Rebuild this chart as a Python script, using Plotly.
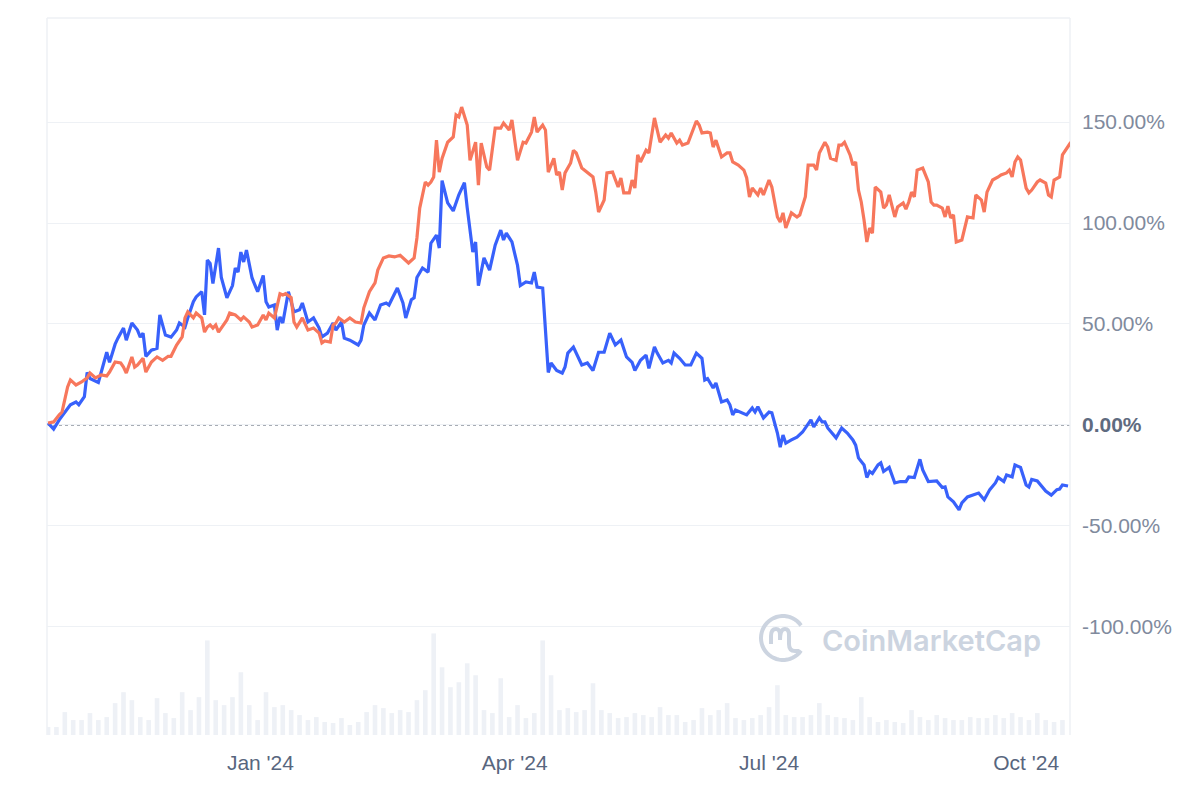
import math
import pandas as pd
import plotly.graph_objects as go

START = pd.Timestamp("2023-10-17")

# ---- Series A (blue): % change, keyed by days since START ----
blue_days = [0,2,4,6,8,10,11,13,14,15,18,19,21,22,24,25,27,28,30,32,33,34,35,37,39,40,42,44,46,47,49,50,52,53,55,56,57,58,59,61,62,64,66,67,68,69,70,71,73,75,77,78,79,81,82,83,84,86,88,90,91,93,95,97,98,100,102,103,105,106,108,111,112,113,115,117,119,121,122,125,127,128,130,131,132,134,136,137,139,140,141,143,145,147,149,150,152,153,154,156,158,160,162,163,164,166,168,169,171,173,174,175,177,179,180,182,184,185,186,188,190,191,193,195,197,199,201,203,205,207,209,210,212,214,215,217,218,220,222,223,224,226,228,230,232,234,235,236,238,239,241,243,244,245,246,248,250,252,253,254,256,258,259,261,262,263,264,266,268,270,273,274,276,277,278,279,282,284,286,288,289,290,292,293,294,295,297,298,299,301,303,305,307,308,310,312,313,315,318,320,321,322,324,326,327,329,331,333,335,337,339,340,342,343,345,346,348,350,351,352,354,356,357,359,361,362,363,365]
blue_vals = [1,-2,2.5,6.5,10,11.4,10,14,26,23,21,26,36,31,40,43,48,42,50.5,47,43.5,45.5,34,37,38,54.5,44.5,43.5,47,50.5,48.5,53,61,63.4,66,54.5,81.7,80,70,87.6,73,63,69,77.7,75.7,85.6,80.7,86.6,72.8,66,74,61,58.4,59.4,47,53.5,50.5,66,56,57,60.4,51,53,48,43.6,45.5,50.5,47,51,43,42,39.6,42,49.5,55.4,52,59.4,60.4,59.4,67.8,60.4,53,62,63,73,77.7,75.7,90,94,87.6,121,110,106,114,120,107.5,85.6,90.6,69,82.7,76.7,89,96.5,91.6,95,90.6,79,69,70.8,70.3,75.7,68.3,67.8,26,30.7,27,25.7,28.7,35.6,38.6,32,29.7,30.7,27,36,36,45.5,39.6,42,33.7,31,27,32,34.6,28,38.6,35.6,30.7,32,30.7,35.6,33,29.7,29.7,35.6,33,22.3,23,18.3,20.8,11.4,12.4,10,5,7.4,6.4,5,8.4,6.4,9,3.5,6.4,6,-4,-11,-5,-9,-7.4,-6,-3.5,2.5,-1,3.5,1.5,1.5,-1.5,-6.4,-1.5,-4,-7.4,-10,-16.3,-19.8,-26,-23,-24,-19.8,-18.8,-23,-21,-28.7,-28,-28,-25.7,-26,-17,-22.3,-28,-27.7,-31,-30.7,-35.6,-38,-42,-38.6,-35.6,-34.7,-33.7,-37,-32,-28.7,-26,-28,-24.8,-25.7,-19.8,-21,-29.7,-30.7,-27,-27.7,-31,-32.7,-34.7,-32,-31.7,-29.7,-30.2]

# ---- Series B (orange): % change, keyed by days since START ----
orange_days = [0,2,4,5,7,8,10,12,14,15,17,19,21,22,24,26,27,28,30,31,32,34,35,37,39,41,43,44,46,48,49,50,52,53,55,56,57,58,59,60,61,63,64,65,67,69,70,72,73,75,77,78,79,81,83,84,85,87,88,89,91,93,95,97,98,99,101,102,103,104,106,108,110,112,113,115,117,118,120,122,124,126,127,129,131,132,133,135,136,137,138,139,140,141,143,145,146,147,148,150,151,153,154,155,157,158,160,162,163,165,166,168,170,171,173,174,175,177,178,179,181,182,183,184,185,187,188,189,191,193,195,196,197,199,200,202,204,205,206,208,209,210,211,212,214,215,217,218,219,221,222,223,225,226,227,229,231,232,233,234,236,237,238,239,241,243,244,245,247,249,250,251,252,254,255,256,258,259,261,262,263,264,266,268,269,271,272,274,275,276,278,279,280,282,283,284,285,287,288,289,290,291,292,293,294,295,296,298,299,300,301,303,304,306,307,308,309,310,311,313,315,316,317,318,320,321,322,323,324,325,327,328,329,331,332,334,335,336,338,340,341,343,344,345,346,347,348,350,351,352,354,355,357,358,359,360,362,363,365,366]
orange_vals = [1,1.5,5,6.4,18.8,22.3,19.8,21.3,23.3,25.7,23.3,24.8,24.3,26.2,31.2,30.7,28.7,25.7,33.7,28.7,29.7,33,26.2,31.2,33.7,32,34,34,39.6,43.6,53,56,53,55.4,53,46,48.5,49.5,48,49.5,46,50.5,52,55.4,54.5,52,53.5,51,48.5,49.5,54.5,52,55.4,53,65,64.4,65,63,51,48.5,53,47,48,45.5,40.6,41.6,41,49.5,50.5,53,51,53,51,50.5,58,66,70.3,76.7,82.7,83.7,83.2,84,82.7,80.2,82.7,92.6,107.4,120.3,118.8,120.3,122.8,141,125.2,132,140,142.6,153.5,152.5,157.4,148.5,131,140,118.8,139.6,127.7,126.2,147,147,149.5,146,151,131,140,139.6,145,152.5,145,148.5,146,125.2,132,123.8,125.2,116.3,124.8,129.7,136,134.7,127.2,125.2,122.8,115.3,105.4,111.4,124.8,125.2,117.8,122.3,114.9,114.9,121.3,117.3,133.7,130.2,136,134.7,152,146,140,143.6,142,144.6,139.6,141,138.6,139.6,147,150.5,148.5,144.6,145,144.6,137.6,141,132.7,134.7,134.7,130.2,128.7,126.2,122.3,112.9,117.3,113.9,117.3,113.9,121.3,117.8,103,100.5,105,97.5,105,103,104,113,128.7,128.7,126.2,134.7,140,137.6,132,131,138.6,138.6,140,133.7,128.7,130.2,116.3,110.4,101.5,90.6,97.5,95,117.8,115.3,107.4,108.9,113.9,103,107.9,109.9,106.9,110.4,115.3,112.9,126.2,127.2,120.3,110.4,108.9,108.9,107.4,103,108.4,102.5,104,90.6,91.6,97.5,103,102.5,113.9,111.4,105.4,115.3,121.3,122.8,123.8,124.8,126.2,122.8,130.2,132.7,131.2,117.3,114.9,116.3,120.3,121.3,119.8,113.9,112.9,121.3,122.8,133.7,137.6,140]

# ---- Trading volume (relative index), one value per 3-day bucket ----
volume = [8,8,23,15,15,22,15,18,32,43,35,18,15,37,22,17,43,25,38,95,35,30,38,63,30,15,43,28,30,25,20,15,18,13,12,17,10,13,23,30,27,22,25,23,35,45,102,68,48,53,72,60,25,22,57,18,30,17,22,95,60,25,27,23,25,52,25,22,17,18,22,20,18,28,20,20,13,15,27,20,25,32,17,15,17,20,28,50,20,18,18,20,32,20,18,17,15,38,18,13,15,13,12,25,18,15,20,17,15,15,18,17,17,20,17,22,18,15,22,15,13,15]

# ---- Axis ticks ----
x_tick_dates = ["2024-01-01", "2024-04-01", "2024-07-01", "2024-10-01"]
x_tick_labels = ["Jan '24", "Apr '24", "Jul '24", "Oct '24"]
y_tick_vals = [-100, -50, 0, 50, 100, 150]
y_tick_labels = ["-100.00%", "-50.00%", "<span style='color:#5f6b80'><b>0.00%</b></span>", "50.00%", "100.00%", "150.00%"]

blue_x = START + pd.to_timedelta(blue_days, unit="D")
orange_x = START + pd.to_timedelta(orange_days, unit="D")
vol_x = pd.date_range(START, periods=len(volume), freq="3D")

BLUE = "#3861FB"
ORANGE = "#F7775C"
GRID = "#eef1f5"

fig = go.Figure()
fig.add_trace(go.Bar(x=vol_x, y=volume, yaxis="y2", marker=dict(color="#eef1f6", line=dict(width=0)),
                     showlegend=False, hoverinfo="skip"))
fig.add_trace(go.Scatter(x=blue_x, y=blue_vals, mode="lines", line=dict(color=BLUE, width=3.2),
                         showlegend=False))
fig.add_trace(go.Scatter(x=orange_x, y=orange_vals, mode="lines", line=dict(color=ORANGE, width=3.2),
                         showlegend=False))

x_lo = START - pd.Timedelta(hours=9)
x_hi = START + pd.Timedelta(days=365.7)

fig.update_layout(
    width=1200, height=800,
    margin=dict(l=47, r=130, t=18, b=65),
    paper_bgcolor="white", plot_bgcolor="white",
    bargap=0.45,
    xaxis=dict(type="date", range=[x_lo, x_hi], tickvals=x_tick_dates, ticktext=x_tick_labels,
               showgrid=False, zeroline=False, showline=False, ticks="",
               tickfont=dict(family="Liberation Sans, Arial", size=21, color="#58667e"),
               ticklabelstandoff=13),
    yaxis=dict(side="right", range=[-153.5, 201.5], tickvals=y_tick_vals, ticktext=y_tick_labels,
               showgrid=True, gridcolor=GRID, gridwidth=1, zeroline=False, showline=False, ticks="",
               tickfont=dict(family="Liberation Sans, Arial", size=21, color="#808a9d"),
               ticklabelstandoff=11),
    yaxis2=dict(overlaying="y", range=[0, 720], visible=False, fixedrange=True),
)

# zero reference (dotted) and plot frame
fig.add_shape(type="line", xref="paper", yref="y", x0=0, x1=1, y0=0, y1=0,
              line=dict(color="#8a919c", width=1.8, dash="dot"), layer="below")
for x0, y0, x1, y1 in [(0, 0, 0, 1), (1, 0, 1, 1), (0, 1, 1, 1)]:
    fig.add_shape(type="line", xref="paper", yref="paper", x0=x0, y0=y0, x1=x1, y1=y1,
                  line=dict(color="#eef1f5", width=1.5), layer="below")

# watermark logo: open ring + "m" stroke, pixel-sized relative to an anchor
ax_pos = (783 - 47) / 1023
ay_pos = (735 - 638) / 717
r = 22
pts = []
for i in range(0, 41):
    a = math.radians(-35 - i * (290 / 40))
    pts.append((r * math.cos(a), r * math.sin(a)))
ring = "M " + " L ".join(f"{px:.2f},{py:.2f}" for px, py in pts)
mpath = ("M -12,-6 L -12,2 Q -12,9 -7,9 Q -3,9 -3,3 L -3,-2 Q -3,9 2,9 Q 6,9 6,3 "
         "L 6,-6 Q 6,-13 12,-13 L 16,-13")
for p in (ring, mpath):
    fig.add_shape(type="path", path=p, xref="paper", yref="paper",
                  xsizemode="pixel", ysizemode="pixel", xanchor=ax_pos, yanchor=ay_pos,
                  line=dict(color="#ccd4e0", width=4), layer="above")

fig.add_annotation(text="CoinMarketCap", xref="paper", yref="paper",
                   x=(820 - 47) / 1023, y=(735 - 640) / 717, xanchor="left", yanchor="middle",
                   showarrow=False, font=dict(family="Inter, Lato, sans-serif", size=29, color="#ccd4e0", weight=600))

fig.write_html("out.html")
